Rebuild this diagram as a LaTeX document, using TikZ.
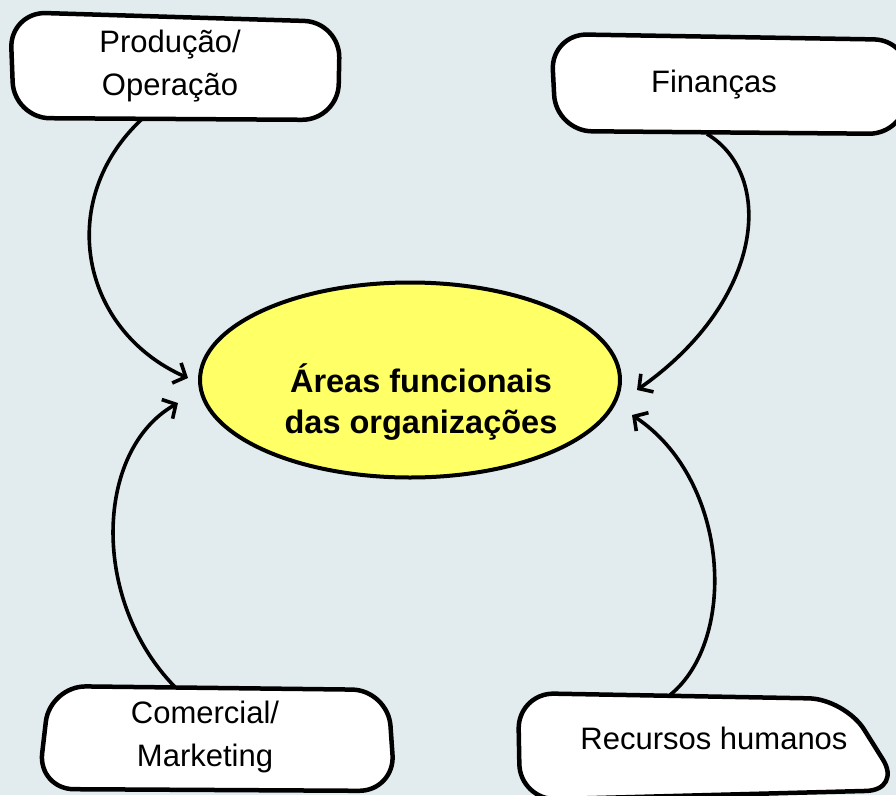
\documentclass[tikz,border=0pt]{standalone}
\usepackage{fontspec}
\setmainfont{Liberation Sans}
\usetikzlibrary{arrows.meta,shapes.geometric}
\definecolor{paper}{RGB}{226,236,238}
\definecolor{yolk}{RGB}{255,255,102}

\begin{document}
\begin{tikzpicture}[x=1pt,y=-1pt,
areabox/.style={draw=black,line width=4.5pt,fill=white,rounded corners=36pt},
boxtext/.style={align=center,font=\fontsize{31}{43}\selectfont},
link/.style={draw=black,line width=3.6pt,-{Straight Barb[length=10pt,width=22pt]}}]
\clip (0,0) rectangle (896,795);
\fill[paper] (0,0) rectangle (896,795);
\node[ellipse,draw=black,line width=4pt,fill=yolk,minimum width=420pt,minimum height=195pt,inner sep=0pt,outer sep=0pt] (core) at (410,380) {};
\node[boxtext,font=\fontsize{32.5}{41}\bfseries\selectfont] (coretext) at (421,402) {Áreas funcionais\\das organizações};
\draw[areabox] (10,12) -- (340,22) -- (338,120) -- (14,118) -- cycle;
\draw[areabox] (551,34) -- (910,40) -- (905,134) -- (556,131) -- cycle;
\draw[areabox] (50,686) -- (388,690) -- (395,791) -- (38,789) -- cycle;
\draw[areabox] (518,693) -- (845,699) -- (902,790) -- (520,800) -- cycle;
\node[boxtext] (prod) at (170,66) {Produção/\\Operação};
\node[boxtext] (fin) at (714,85) {Finanças};
\node[boxtext] (com) at (205,737) {Comercial/\\Marketing};
\node[boxtext] (rh) at (714,738) {Recursos humanos};
\coordinate (prod-foot) at (142,119);
\coordinate (fin-foot) at (707,134);
\coordinate (com-top) at (175,687);
\coordinate (rh-top) at (670,695);
\draw[link] (prod-foot) .. controls (55,200) and (80,330) .. ([shift={(-12,-2)}]core.west);
\draw[link] (fin-foot) .. controls (775,175) and (765,300) .. ([shift={(17,10)}]core.east);
\draw[link] (com-top) .. controls (90,600) and (95,450) .. ([shift={(-22,23)}]core.west);
\draw[link] (rh-top) .. controls (738,640) and (730,480) .. ([shift={(12,35)}]core.east);
\end{tikzpicture}
\end{document}
